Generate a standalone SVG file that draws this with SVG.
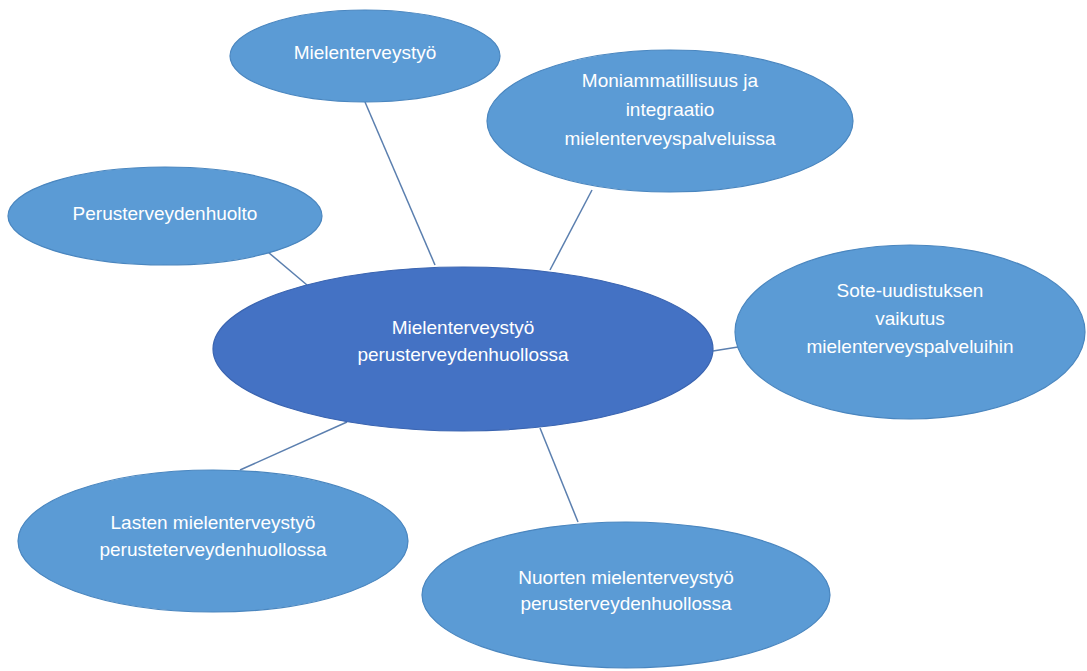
<svg xmlns="http://www.w3.org/2000/svg" width="1087" height="671" viewBox="0 0 1087 671">
<style>
.o{fill:#5B9BD5;stroke:#4A86BF;stroke-width:1.2}
.c{fill:#4472C4;stroke:#3A64B0;stroke-width:1.2}
.t{font-family:"Liberation Sans",Arial,sans-serif;font-size:19px;fill:#FFFFFF;text-anchor:middle}
.l{stroke:#5B7FAF;stroke-width:1.5;fill:none}
</style>
<rect width="1087" height="671" fill="#FFFFFF"/>
<g id="connectors">
<line class="l" x1="365" y1="102" x2="435" y2="265"/>
<line class="l" x1="592" y1="190" x2="550" y2="270"/>
<line class="l" x1="262" y1="247" x2="307" y2="285"/>
<line class="l" x1="713" y1="351" x2="738" y2="347"/>
<line class="l" x1="347" y1="422" x2="240" y2="470"/>
<line class="l" x1="540" y1="428" x2="578" y2="522"/>
</g>
<g id="n-mielenterveystyo">
<ellipse class="o" cx="365" cy="56" rx="135" ry="46"/>
<text class="t" x="365" y="59">Mielenterveystyö</text>
</g>
<g id="n-moniammatillisuus">
<ellipse class="o" cx="670" cy="121" rx="183" ry="71"/>
<text class="t" x="670" y="87">Moniammatillisuus ja</text>
<text class="t" x="670" y="116">integraatio</text>
<text class="t" x="670" y="145">mielenterveyspalveluissa</text>
</g>
<g id="n-perusterveydenhuolto">
<ellipse class="o" cx="165" cy="216" rx="157" ry="49"/>
<text class="t" x="165" y="220">Perusterveydenhuolto</text>
</g>
<g id="n-center">
<ellipse class="c" cx="463" cy="349" rx="250" ry="82"/>
<text class="t" x="463" y="334">Mielenterveystyö</text>
<text class="t" x="463" y="361">perusterveydenhuollossa</text>
</g>
<g id="n-sote">
<ellipse class="o" cx="910" cy="332" rx="175" ry="87"/>
<text class="t" x="910" y="297">Sote-uudistuksen</text>
<text class="t" x="910" y="325">vaikutus</text>
<text class="t" x="910" y="353">mielenterveyspalveluihin</text>
</g>
<g id="n-lasten">
<ellipse class="o" cx="213" cy="541" rx="195" ry="71"/>
<text class="t" x="213" y="529">Lasten mielenterveystyö</text>
<text class="t" x="213" y="556">perusteterveydenhuollossa</text>
</g>
<g id="n-nuorten">
<ellipse class="o" cx="626" cy="595" rx="204" ry="73"/>
<text class="t" x="626" y="584">Nuorten mielenterveystyö</text>
<text class="t" x="626" y="610">perusterveydenhuollossa</text>
</g>
</svg>
